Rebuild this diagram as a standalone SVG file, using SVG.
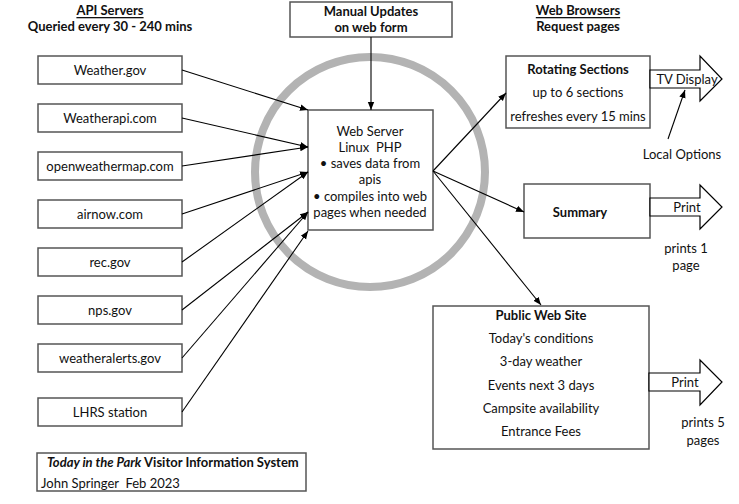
<svg xmlns="http://www.w3.org/2000/svg" width="739" height="504" viewBox="0 0 739 504">
<defs>
<marker id="ah" viewBox="0 0 10 10" refX="10" refY="5" markerWidth="8" markerHeight="8" markerUnits="userSpaceOnUse" orient="auto">
<path d="M0,1 L10,5 L0,9 z" fill="#000"/>
</marker>
</defs>
<style>
text{font-family:Lato,"Noto Sans","Liberation Sans",sans-serif;font-size:13px;fill:#111;text-anchor:middle;dominant-baseline:central}
.b{font-weight:bold}
.u{text-decoration:underline}
.box{fill:#fff;stroke:#555;stroke-width:1.5}
.blk{fill:#fff;stroke:#000;stroke-width:1.2}
.con{stroke:#000;stroke-width:1.1;fill:none;marker-end:url(#ah)}
.l{text-anchor:start}
</style>
<rect width="739" height="504" fill="#fff"/>
<circle cx="370" cy="172" r="115" fill="none" stroke="#b3b3b3" stroke-width="8"/>
<g id="headers">
<text x="110" y="10" class="b u">API Servers</text>
<text x="110" y="26" class="b">Queried every 30 - 240 mins</text>
<text x="578" y="10" class="b u">Web Browsers</text>
<text x="578" y="26" class="b">Request pages</text>
</g>
<g id="n-weathergov"><rect class="box" x="38" y="56" width="144" height="28"/><text x="110" y="70">Weather.gov</text></g>
<g id="n-weatherapi"><rect class="box" x="38" y="104" width="144" height="28"/><text x="110" y="118">Weatherapi.com</text></g>
<g id="n-owm"><rect class="box" x="38" y="152" width="144" height="28"/><text x="110" y="166">openweathermap.com</text></g>
<g id="n-airnow"><rect class="box" x="38" y="200" width="144" height="28"/><text x="110" y="214">airnow.com</text></g>
<g id="n-recgov"><rect class="box" x="38" y="248" width="144" height="28"/><text x="110" y="262">rec.gov</text></g>
<g id="n-npsgov"><rect class="box" x="38" y="296" width="144" height="28"/><text x="110" y="310">nps.gov</text></g>
<g id="n-alerts"><rect class="box" x="38" y="344" width="144" height="28"/><text x="110" y="358">weatheralerts.gov</text></g>
<g id="n-lhrs"><rect class="box" x="38" y="398" width="144" height="28"/><text x="110" y="412">LHRS station</text></g>
<g id="n-manual"><rect class="box" x="290" y="2" width="162" height="35"/><text x="371" y="11" class="b">Manual Updates</text><text x="371" y="27" class="b">on web form</text></g>
<g id="n-server"><rect class="box" x="308" y="110" width="125" height="120"/>
<text x="370" y="131">Web Server</text>
<text x="370" y="147">Linux&#160; PHP</text>
<text x="370" y="163">• saves data from</text>
<text x="370" y="179">apis</text>
<text x="370" y="196">• compiles into web</text>
<text x="370" y="212">pages when needed</text>
</g>
<g id="n-rotating"><rect class="box" x="506" y="56" width="144" height="72"/>
<text x="578" y="69" class="b">Rotating Sections</text>
<text x="578" y="92">up to 6 sections</text>
<text x="578" y="116">refreshes every 15 mins</text>
</g>
<g id="n-tv"><polygon class="blk" points="650,70 700,70 700,56 722,79 700,101 700,88 650,88"/><text x="687" y="79">TV Display</text></g>
<g id="n-local"><text x="682" y="154">Local Options</text></g>
<g id="n-summary"><rect class="box" x="524" y="184" width="126" height="54"/><text x="580" y="212" class="b">Summary</text></g>
<g id="n-print1"><polygon class="blk" points="650,198 700,198 700,185 722,207 700,229 700,216 650,216"/><text x="687" y="207">Print</text>
<text x="686" y="248">prints 1</text><text x="686" y="265">page</text></g>
<g id="n-public"><rect class="box" x="433" y="306" width="216" height="143"/>
<text x="541" y="315" class="b">Public Web Site</text>
<text x="541" y="338">Today's conditions</text>
<text x="541" y="361">3-day weather</text>
<text x="541" y="385">Events next 3 days</text>
<text x="541" y="408">Campsite availability</text>
<text x="541" y="431">Entrance Fees</text>
</g>
<g id="n-print5"><polygon class="blk" points="649,373 700,373 700,360 722,382 700,405 700,391 649,391"/><text x="685" y="382">Print</text>
<text x="703" y="422">prints 5</text><text x="703" y="440">pages</text></g>
<g id="n-title"><rect class="box" x="37" y="453" width="269" height="38" stroke="#000"/>
<text x="47" y="462" class="l b"><tspan font-style="italic">Today in the Park</tspan> Visitor Information System</text>
<text x="41" y="483" class="l">John Springer&#160; Feb 2023</text>
</g>
<g id="connectors">
<line class="con" x1="182" y1="70" x2="308" y2="110"/>
<line class="con" x1="182" y1="118" x2="308" y2="147"/>
<line class="con" x1="182" y1="166" x2="308" y2="147"/>
<line class="con" x1="182" y1="214" x2="308" y2="172"/>
<line class="con" x1="182" y1="262" x2="308" y2="172"/>
<line class="con" x1="182" y1="310" x2="308" y2="212"/>
<line class="con" x1="182" y1="358" x2="308" y2="212"/>
<line class="con" x1="182" y1="412" x2="308" y2="231"/>
<line class="con" x1="371" y1="37" x2="371" y2="110"/>
<line class="con" x1="433" y1="171" x2="506" y2="93"/>
<line class="con" x1="433" y1="171" x2="524" y2="212"/>
<line class="con" x1="433" y1="171" x2="541" y2="305"/>
<line class="con" x1="668" y1="139" x2="685" y2="90"/>
</g>
</svg>
